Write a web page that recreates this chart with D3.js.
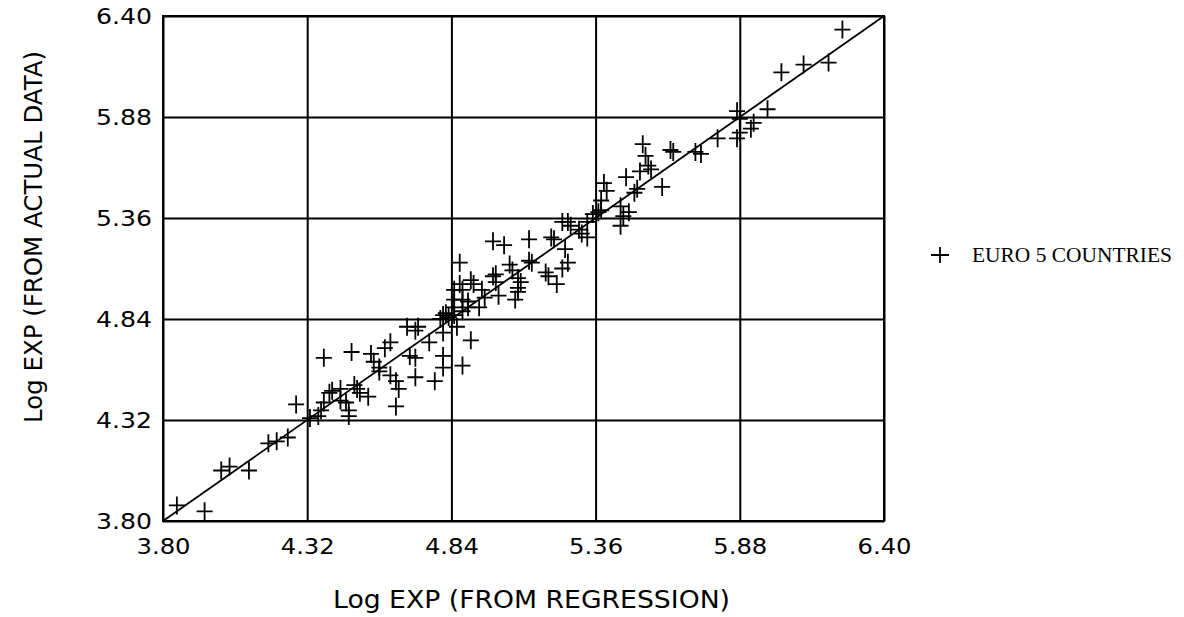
<!DOCTYPE html>
<html>
<head>
<meta charset="utf-8">
<script src="https://cdn.jsdelivr.net/npm/d3@7"></script>
<style>
  html, body { margin: 0; padding: 0; background: #fff; }
  svg { display: block; }
</style>
</head>
<body>
<svg id="chart" width="1184" height="617"></svg>
<script>
// ---- data ----
const tickValues = [3.80, 4.32, 4.84, 5.36, 5.88, 6.40];
const xTitle = "Log EXP (FROM REGRESSION)";
const yTitle = "Log EXP (FROM ACTUAL DATA)";
const legendLabel = "EURO 5 COUNTRIES";
const fitLine = [[3.80, 3.80], [6.40, 6.40]];

// regression estimate (x) vs actual (y)
const xRegression = [
  3.85, 3.95, 4.01, 4.04, 4.11, 4.18, 4.21, 4.25, 4.28, 4.33,
  4.38, 4.48, 4.55, 4.56, 4.58, 4.60, 4.62, 4.68, 4.71, 4.72,
  4.76, 4.80, 4.81, 4.81, 4.69, 4.71, 4.81, 4.81, 4.78, 4.71,
  4.64, 4.65, 4.62, 4.58, 4.64, 4.54, 4.51, 4.49, 4.50, 4.44,
  4.41, 4.40, 4.46, 4.47, 4.44, 4.38, 4.37, 4.36, 4.47,
  4.87, 4.99, 5.03, 5.12, 5.20, 5.21, 5.24, 5.26, 5.27, 5.30,
  5.31, 5.33, 5.35, 5.37, 5.25, 5.26, 5.24, 5.18, 5.19, 5.22,
  5.12, 5.13, 5.05, 5.06, 4.99, 5.00, 5.00, 4.91, 4.92, 4.87,
  4.88, 5.08, 5.09, 5.08, 5.08, 5.07, 5.01, 4.95, 4.96, 4.94,
  4.90, 4.90, 4.88, 4.85, 4.85, 4.85, 4.85, 4.83, 4.88, 4.82,
  4.91, 4.88, 4.86,
  5.87, 5.88, 5.93, 5.92, 5.88, 5.87, 5.80, 5.72, 5.74, 5.63,
  5.64, 5.53, 5.54, 5.55, 5.56, 5.47, 5.52, 5.39, 5.40, 5.51,
  5.50, 5.60, 5.45, 5.46, 5.45, 5.48, 5.38, 5.38, 5.33,
  6.25, 6.03, 6.11, 6.20, 5.98
];
const yActual = [
  3.88, 3.85, 4.06, 4.08, 4.06, 4.20, 4.21, 4.23, 4.40, 4.33,
  4.64, 4.67, 4.66, 4.62, 4.59, 4.69, 4.72, 4.80, 4.78, 4.80,
  4.72, 4.84, 4.86, 4.77, 4.65, 4.64, 4.65, 4.59, 4.52, 4.54,
  4.52, 4.48, 4.55, 4.57, 4.39, 4.44, 4.46, 4.50, 4.48, 4.48,
  4.47, 4.46, 4.41, 4.37, 4.42, 4.41, 4.37, 4.34, 4.34,
  5.13, 5.24, 5.22, 5.25, 5.26, 5.25, 5.34, 5.34, 5.32, 5.30,
  5.28, 5.26, 5.38, 5.39, 5.20, 5.13, 5.10, 5.08, 5.06, 5.02,
  5.14, 5.13, 5.12, 5.09, 5.06, 5.07, 5.03, 5.04, 5.02, 5.02,
  4.99, 5.05, 5.03, 5.00, 4.98, 4.94, 4.96, 4.99, 4.95, 4.90,
  4.93, 4.90, 4.88, 4.99, 4.94, 4.90, 4.86, 4.85, 4.94, 4.87,
  4.73, 4.60, 4.80,
  5.91, 5.87, 5.85, 5.82, 5.80, 5.77, 5.77, 5.70, 5.69, 5.71,
  5.70, 5.74, 5.68, 5.63, 5.61, 5.57, 5.60, 5.54, 5.50, 5.51,
  5.49, 5.52, 5.42, 5.37, 5.32, 5.39, 5.45, 5.40, 5.34,
  6.33, 6.11, 6.15, 6.16, 5.92
];

// ---- drawing ----
const svg = d3.select("#chart");
const plot = { left: 163, right: 884, top: 16, bottom: 521 };
const x = d3.scaleLinear().domain([3.80, 6.40]).range([plot.left, plot.right]);
const y = d3.scaleLinear().domain([3.80, 6.40]).range([plot.bottom, plot.top]);
const fmt = d3.format(".2f");
const labelFont = "DejaVu Sans, Liberation Sans, Arial, sans-serif";

// Y axis with gridlines
const yAxis = svg.append("g")
  .attr("transform", `translate(${plot.left},0)`)
  .call(d3.axisLeft(y).tickValues(tickValues).tickFormat(fmt)
    .tickSize(-(plot.right - plot.left)).tickPadding(11));
yAxis.select(".domain").remove();
yAxis.selectAll(".tick line").attr("stroke", "#000").attr("stroke-width", 2);
yAxis.selectAll(".tick text")
  .attr("fill", "#000").attr("font-family", labelFont).attr("font-size", 22)
  .attr("textLength", 56).attr("lengthAdjust", "spacingAndGlyphs");

// X axis with gridlines
const xAxis = svg.append("g")
  .attr("transform", `translate(0,${plot.bottom})`)
  .call(d3.axisBottom(x).tickValues(tickValues).tickFormat(fmt)
    .tickSize(-(plot.bottom - plot.top)).tickPadding(17));
xAxis.select(".domain").remove();
xAxis.selectAll(".tick line").attr("stroke", "#000").attr("stroke-width", 2);
xAxis.selectAll(".tick text")
  .attr("fill", "#000").attr("font-family", labelFont).attr("font-size", 22)
  .attr("textLength", 54).attr("lengthAdjust", "spacingAndGlyphs");

// frame
svg.append("rect")
  .attr("x", plot.left).attr("y", plot.top)
  .attr("width", plot.right - plot.left).attr("height", plot.bottom - plot.top)
  .attr("fill", "none").attr("stroke", "#000").attr("stroke-width", 2);

// fitted 45-degree line
svg.append("path")
  .datum(fitLine)
  .attr("d", d3.line().x(d => x(d[0])).y(d => y(d[1])))
  .attr("fill", "none").attr("stroke", "#000").attr("stroke-width", 1.8);

// plus markers
const pts = xRegression.map((v, i) => [v, yActual[i]]);
const hx = 8, hy = 9;
svg.append("g").selectAll("path")
  .data(pts).join("path")
  .attr("d", d => {
    const cx = x(d[0]), cy = y(d[1]);
    return `M${cx - hx},${cy}H${cx + hx}M${cx},${cy - hy}V${cy + hy}`;
  })
  .attr("fill", "none").attr("stroke", "#000").attr("stroke-width", 1.8);

// axis titles
svg.append("text")
  .attr("x", (plot.left + plot.right) / 2 + 8).attr("y", 608)
  .attr("text-anchor", "middle")
  .attr("font-family", labelFont).attr("font-size", 25).attr("fill", "#000")
  .attr("textLength", 397).attr("lengthAdjust", "spacingAndGlyphs")
  .text(xTitle);

svg.append("text")
  .attr("transform", "translate(42,237) rotate(-90)")
  .attr("text-anchor", "middle")
  .attr("font-family", labelFont).attr("font-size", 25).attr("fill", "#000")
  .attr("textLength", 372).attr("lengthAdjust", "spacingAndGlyphs")
  .text(yTitle);

// legend
const lg = svg.append("g");
lg.append("path")
  .attr("d", `M${931},${255}H${949}M${940},${247}V${263}`)
  .attr("stroke", "#000").attr("stroke-width", 1.8).attr("fill", "none");
lg.append("text")
  .attr("x", 972).attr("y", 262)
  .attr("font-family", "Liberation Serif, DejaVu Serif, serif")
  .attr("font-size", 20).attr("fill", "#000")
  .attr("textLength", 200).attr("lengthAdjust", "spacingAndGlyphs")
  .text(legendLabel);
</script>
</body>
</html>
